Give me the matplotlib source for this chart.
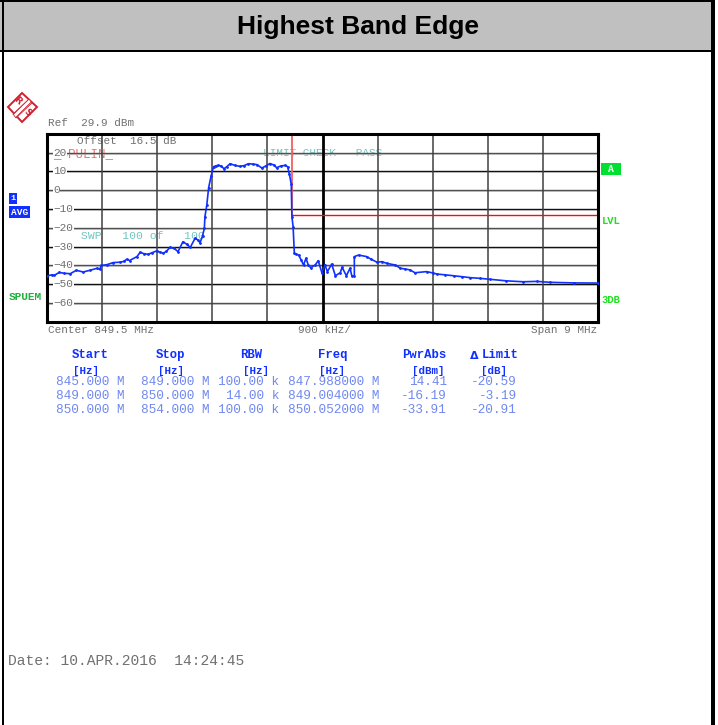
import matplotlib
matplotlib.use('Agg')
import matplotlib.pyplot as plt
from matplotlib.patches import Polygon, Rectangle

W, H = 718, 725

# trace
freq_mhz = [845.0, 845.08, 845.12, 845.2, 845.28, 845.38, 845.48, 845.59, 845.7, 845.81,
            845.86, 845.89, 845.98, 846.08, 846.19, 846.25, 846.3, 846.35, 846.47, 846.52,
            846.58, 846.65, 846.72, 846.79, 846.84, 846.9, 846.95, 847.01, 847.08, 847.14,
            847.22, 847.28, 847.34, 847.42, 847.46, 847.5, 847.54, 847.57, 847.58, 847.61,
            847.64, 847.68, 847.72, 847.76, 847.8, 847.85, 847.89, 847.94, 847.99, 848.07,
            848.15, 848.22, 848.29, 848.36, 848.43, 848.51, 848.58, 848.64, 848.7, 848.75,
            848.82, 848.89, 848.93, 848.96, 848.99, 849.0, 849.02, 849.04, 849.07, 849.11,
            849.15, 849.19, 849.23, 849.27, 849.31, 849.38, 849.43, 849.49, 849.54, 849.58,
            849.65, 849.71, 849.79, 849.82, 849.89, 849.95, 849.98, 850.02, 850.02, 850.09,
            850.22, 850.3, 850.39, 850.47, 850.55, 850.69, 850.77, 850.85, 850.93, 851.01,
            851.2, 851.3, 851.37, 851.5, 851.64, 851.78, 851.91, 852.08, 852.24, 852.5,
            852.78, 853.0, 853.22, 853.6, 854.0]
level_dbm = [-45.6, -45.0, -45.3, -43.7, -44.2, -44.4, -42.6, -43.5, -42.6, -41.6,
             -42.0, -40.0, -39.6, -38.5, -38.3, -37.9, -36.8, -37.4, -35.3, -33.1,
             -33.7, -34.1, -33.2, -32.3, -32.9, -33.5, -32.5, -30.4, -31.0, -32.7,
             -27.4, -28.7, -30.4, -25.5, -26.4, -27.9, -24.4, -20.3, -14.0, -7.9,
             1.3, 7.5, 12.5, 13.0, 13.2, 12.8, 11.4, 12.6, 14.1, 13.2,
             12.7, 13.1, 14.1, 13.9, 13.6, 11.8, 13.0, 14.2, 13.5, 12.0,
             12.9, 13.2, 12.5, 8.4, 3.1, -14.0, -19.4, -33.6, -34.0, -34.5,
             -37.0, -39.8, -36.2, -40.0, -41.2, -39.8, -37.5, -43.9, -39.8, -43.3,
             -39.3, -45.5, -43.9, -41.0, -45.5, -41.5, -45.7, -45.7, -35.3, -34.5,
             -35.3, -36.8, -38.3, -38.0, -38.9, -39.8, -41.5, -41.9, -42.4, -43.9,
             -43.3, -44.0, -44.6, -45.0, -45.5, -46.0, -46.5, -46.9, -47.4, -48.2,
             -48.7, -48.5, -49.0, -49.3, -49.4]

limit_freq = [849.0, 849.0, 854.0]
limit_level = [29.9, -13.0, -13.0]

y_ticks = [20, 10, 0, -10, -20, -30, -40, -50, -60]
x_grid = [845.9, 846.8, 847.7, 848.6, 850.4, 851.3, 852.2, 853.1]
center_mhz = 849.5

table_header = ['Start', 'Stop', 'RBW', 'Freq', 'PwrAbs', 'Limit']
table_units = ['[Hz]', '[Hz]', '[Hz]', '[Hz]', '[dBm]', '[dB]']
table_rows = [
    ['845.000 M', '849.000 M', '100.00 k', '847.988000 M', '14.41', '-20.59'],
    ['849.000 M', '850.000 M', '14.00 k', '849.004000 M', '-16.19', '-3.19'],
    ['850.000 M', '854.000 M', '100.00 k', '850.052000 M', '-33.91', '-20.91'],
]

MONO = 'Liberation Mono'
GREY_TXT = '#707070'
BLUE = '#1030ff'
LIGHT_BLUE = '#7088f0'
TEAL = '#70c4c0'
GREEN = '#20e020'
LOGO = '#d02030'

fig = plt.figure(figsize=(W / 100, H / 100), dpi=100)

# page layer in pixel coordinates
page = fig.add_axes([0, 0, 1, 1])
page.set_xlim(0, W)
page.set_ylim(H, 0)
page.axis('off')

page.add_patch(Rectangle((0, 2), 711, 48, fc='#c0c0c0', ec='none'))
page.add_patch(Rectangle((0, 0), 715, 2, fc='black', ec='none'))
page.add_patch(Rectangle((0, 50), 715, 2, fc='black', ec='none'))
page.add_patch(Rectangle((1.5, 0), 2, H, fc='black', ec='none'))
page.add_patch(Rectangle((711, 0), 4, H, fc='black', ec='none'))
page.text(358, 27, 'Highest Band Edge', ha='center', va='center',
          fontsize=19, fontweight='bold', family='Liberation Sans')

# R&S logo
plt.rcParams['hatch.linewidth'] = 0.7
page.add_patch(Polygon([(8, 107), (22, 93), (37, 107), (22, 122)], closed=True,
                       fc='white', ec=LOGO, lw=1.4))
page.add_patch(Polygon([(29, 99), (32, 103), (16, 118), (13, 114)], closed=True,
                       fc='white', ec=LOGO, lw=0.6, hatch='//////'))
page.text(17, 101, 'R', color=LOGO, fontsize=6.5, fontweight='bold', ha='center', va='center', rotation=-45)
page.text(27, 113, 'S', color=LOGO, fontsize=6.5, fontweight='bold', ha='center', va='center', rotation=-45)

# spectrum plot
ax = fig.add_axes([47 / W, 1 - 322 / H, 551 / W, 188 / H])
ax.set_xlim(845, 854)
ax.set_ylim(-70.1, 29.9)
ax.set_xticks([])
ax.set_yticks([])
for s in ax.spines.values():
    s.set_linewidth(2.2)
    s.set_color('black')
ax.patch.set_alpha(0)

for i, t in enumerate(y_ticks):
    ax.axhline(t, color='#505050' if i % 2 == 0 else '#111111', lw=1.0, zorder=1)
    ax.axhline(t - 0.5, color='#b0b0b0', lw=0.6, zorder=1)
    ax.text(845.1, t, str(t).replace('-', '\u2212'), family=MONO, fontsize=8, color=GREY_TXT,
            va='center', ha='left', zorder=3, bbox=dict(fc='white', ec='none', pad=0.4))
for v in x_grid:
    ax.axvline(v, color='#404040', lw=1.1, zorder=1)
ax.axvline(center_mhz, color='black', lw=2.0, zorder=1)

ax.plot(limit_freq[:2], limit_level[:2], color='#f06060', lw=1.3, zorder=2)
ax.plot(limit_freq[1:], limit_level[1:], color='#f01010', lw=1.0, zorder=2)
ax.plot(freq_mhz, level_dbm, color=BLUE, lw=1.2, marker='.', ms=2, zorder=4)

# labels inside and around the plot
page.text(48, 123, 'Ref  29.9 dBm', family=MONO, fontsize=7.9, color=GREY_TXT, va='center')
page.text(77, 141, 'Offset  16.5 dB', family=MONO, fontsize=7.9, color=GREY_TXT, va='center', zorder=5)
page.text(53, 154, '_SPULIN_', family=MONO, fontsize=9, color='#f07070', va='center', zorder=5)
page.text(263, 153, 'LIMIT CHECK   PASS', family=MONO, fontsize=8, color=TEAL, va='center', zorder=5)
page.text(81, 236, 'SWP   100 of   100', family=MONO, fontsize=8.2, color=TEAL, va='center', zorder=5)
page.text(48, 330, 'Center 849.5 MHz', family=MONO, fontsize=7.9, color=GREY_TXT, va='center')
page.text(298, 330, '900 kHz/', family=MONO, fontsize=7.9, color=GREY_TXT, va='center')
page.text(597, 330, 'Span 9 MHz', family=MONO, fontsize=7.9, color=GREY_TXT, va='center', ha='right')

# side badges
page.add_patch(Rectangle((9, 193), 8, 11, fc=BLUE, ec='none'))
page.text(13, 198.5, '1', family=MONO, fontsize=6, color='white', weight='bold', ha='center', va='center')
page.add_patch(Rectangle((9, 206), 21, 12, fc=BLUE, ec='none'))
page.text(19.5, 212, 'AVG', family=MONO, fontsize=6.8, color='white', weight='bold', ha='center', va='center')
page.text(9, 297, 'SPUEM', family=MONO, fontsize=8, color='#20b040', weight='bold', va='center')
page.add_patch(Rectangle((601, 163), 20, 12, fc='#00e030', ec='none'))
page.text(611, 169, 'A', family=MONO, fontsize=7, color='white', weight='bold', ha='center', va='center')
page.text(602, 221, 'LVL', family=MONO, fontsize=7.6, color=GREEN, weight='bold', va='center')
page.text(602, 300, '3DB', family=MONO, fontsize=7.6, color=GREEN, weight='bold', va='center')

# result table
header_x = [90, 171, 251, 333, 424, 500]
unit_x = [86, 171, 256, 332, 428, 494]
right_x = [125, 210, 279, 379, 447, 517]
for x, ux, label, unit in zip(header_x, unit_x, table_header, table_units):
    page.text(x, 355, label, family=MONO, fontsize=8.8, color=BLUE, weight='bold', ha='center', va='center')
    page.text(ux, 370.5, unit, family=MONO, fontsize=7.8, color=BLUE, weight='bold', ha='center', va='center')
page.text(474, 356, '\u0394', family='DejaVu Sans', fontsize=8, color=BLUE, weight='bold', ha='center', va='center')
for y, row in zip([382, 396, 410], table_rows):
    for x, val in zip(right_x, row):
        page.text(x, y, val, family=MONO, fontsize=9.2, color=LIGHT_BLUE, ha='right', va='center')

page.text(8, 661, 'Date: 10.APR.2016  14:24:45', family=MONO, fontsize=10.5, color=GREY_TXT, va='center')

fig.savefig('out.png', dpi=100)
